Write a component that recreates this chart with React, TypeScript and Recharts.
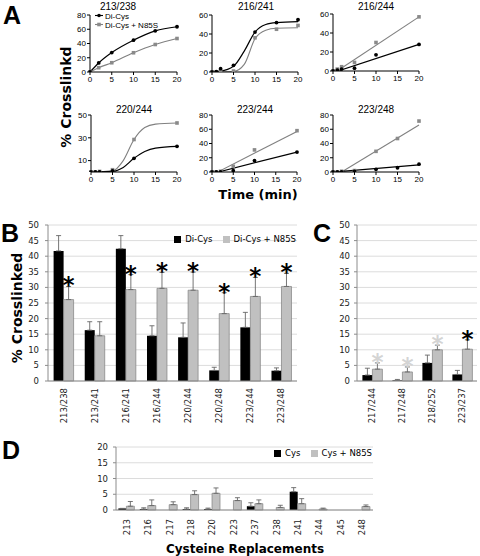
import React from 'react';
import {
  LineChart, Line, XAxis, YAxis, BarChart, Bar, ErrorBar, CartesianGrid, Legend, LabelList,
} from 'recharts';

// ---- panel A: time courses (min vs % crosslinked) ----
const T_213_238 = [0, 2, 5, 10, 15, 20];
const DICYS_213_238 = [0, 12.7, 27.3, 44.7, 57.8, 63.5];
const N85S_213_238 = [0, 6, 13, 27, 38.6, 47];

const T_216_241 = [0, 1, 2, 5, 10, 15, 20];
const DICYS_216_241 = [0, 0.5, 3.5, 7, 42, 52, 55];
const N85S_216_241 = [0, 0, 1, 1, 36, 45, 49];
const FIT_T_216_241 = [0, 2, 5, 7.5, 10, 12.5, 15, 20];
const FIT_DICYS_216_241 = [0.5, 1, 6, 22, 42, 50, 52, 53];
const FIT_N85S_216_241 = [0, 0, 0.5, 8, 35, 44, 46, 46.5];

const T_216_244 = [0, 1, 2, 5, 10, 20];
const DICYS_216_244 = [0, 1, 2, 3, 17, 28];
const N85S_216_244 = [0, 2, 4.5, 9, 30, 57];
const FIT_T_216_244 = [1.5, 20];
const FIT_DICYS_216_244 = [0.5, 28];
const FIT_N85S_216_244 = [1.5, 57];

const T_220_244 = [0, 1, 2, 5, 10, 20];
const DICYS_220_244 = [0, 0, 0, 1, 12, 22.5];
const N85S_220_244 = [0, 0, 0.5, 2, 28.5, 43];
const FIT_T_220_244 = [0, 5, 7.5, 10, 12.5, 15, 20];
const FIT_DICYS_220_244 = [0, 0.5, 4, 12, 18, 21, 22.5];
const FIT_N85S_220_244 = [0, 1, 10, 28.5, 39, 42, 43];

const T_223_244 = [0, 1, 2, 5, 10, 20];
const DICYS_223_244 = [0, 0, 0, 2, 16, 28];
const N85S_223_244 = [0, 0, 1, 8, 31, 58];
const FIT_T_223_244 = [1.5, 20];
const FIT_DICYS_223_244 = [0, 28];
const FIT_N85S_223_244 = [0.5, 57];

const T_223_248 = [0, 1, 2, 5, 10, 15, 20];
const DICYS_223_248 = [0, 0, 0, 1, 3.8, 6, 11];
const N85S_223_248 = [0, 0, 1, 2, 29, 47, 71.5];
const FIT_T_223_248 = [0, 2, 20];
const FIT_DICYS_223_248 = [0, 1, 10];
const FIT_N85S_223_248 = [null, 0, 66];

const TIME_TICKS = [0, 5, 10, 15, 20];

// ---- panel B ----
const B_PAIRS = ['213/238', '213/241', '216/241', '216/244', '220/244', '220/248', '223/244', '223/248'];
const B_DICYS = [41.7, 16.3, 42.4, 14.5, 14.0, 3.4, 17.2, 3.3];
const B_DICYS_ERR = [4.9, 2.7, 4.2, 3.2, 4.6, 1.0, 4.8, 0.9];
const B_N85S = [26.1, 14.5, 29.3, 29.7, 29.1, 21.6, 27.1, 30.3];
const B_N85S_ERR = [4.2, 4.5, 4.8, 5.1, 5.8, 6.7, 6.1, 4.2];
const B_STARS = ['#000', null, '#000', '#000', '#000', '#000', '#000', '#000'];

// ---- panel C ----
const C_PAIRS = ['217/244', '217/248', '218/252', '223/237'];
const C_DICYS = [1.9, 0.2, 5.8, 2.1];
const C_DICYS_ERR = [2.2, 0.3, 2.5, 1.3];
const C_N85S = [3.8, 2.9, 10.0, 10.2];
const C_N85S_ERR = [2.0, 1.6, 1.5, 3.0];
const C_STARS = ['#d4d4d4', '#d4d4d4', '#d4d4d4', '#000'];

// ---- panel D ----
const D_SITES = ['213', '216', '217', '218', '220', '223', '237', '238', '241', '244', '245', '248'];
const D_CYS = [0.5, 0.3, 0, 0.3, 0.3, 0, 1.2, 0, 5.8, 0, 0, 0];
const D_CYS_ERR = [0, 0.4, 0, 0.4, 0.3, 0, 1.1, 0, 1.3, 0, 0, 0];
const D_N85S = [1.2, 1.4, 1.7, 4.9, 5.3, 3.0, 2.0, 0.8, 2.0, 0.3, 0, 1.1];
const D_N85S_ERR = [1.5, 1.8, 0.9, 1.2, 1.7, 0.9, 1.2, 0.7, 1.6, 0.3, 0, 0.5];

const A_FONT = 'Liberation Sans, Arial, sans-serif';
const BAR_FONT = 'DejaVu Sans, Verdana, sans-serif';

const pts = (ts: number[], vs: (number | null)[]) => ts.map((t, i) => ({ t, v: vs[i] }));

const PANELS = [
  { title: '213/238', yMax: 80, yTicks: [0, 20, 40, 60, 80], t: T_213_238, a: DICYS_213_238, b: N85S_213_238,
    fitT: T_213_238, fitA: DICYS_213_238, fitB: N85S_213_238, curve: 'monotone', l: 90, r: 177, top: 15, bot: 72 },
  { title: '216/241', yMax: 60, yTicks: [0, 20, 40, 60], t: T_216_241, a: DICYS_216_241, b: N85S_216_241,
    fitT: FIT_T_216_241, fitA: FIT_DICYS_216_241, fitB: FIT_N85S_216_241, curve: 'monotone', l: 212, r: 298, top: 15, bot: 72 },
  { title: '216/244', yMax: 60, yTicks: [0, 20, 40, 60], t: T_216_244, a: DICYS_216_244, b: N85S_216_244,
    fitT: FIT_T_216_244, fitA: FIT_DICYS_216_244, fitB: FIT_N85S_216_244, curve: 'linear', l: 333, r: 419, top: 14, bot: 71 },
  { title: '220/244', yMax: 50, yTicks: [0, 10, 20, 30, 40, 50], t: T_220_244, a: DICYS_220_244, b: N85S_220_244,
    fitT: FIT_T_220_244, fitA: FIT_DICYS_220_244, fitB: FIT_N85S_220_244, curve: 'monotone', l: 91, r: 177, top: 115, bot: 172 },
  { title: '223/244', yMax: 80, yTicks: [0, 20, 40, 60, 80], t: T_223_244, a: DICYS_223_244, b: N85S_223_244,
    fitT: FIT_T_223_244, fitA: FIT_DICYS_223_244, fitB: FIT_N85S_223_244, curve: 'linear', l: 212, r: 297, top: 115, bot: 172 },
  { title: '223/248', yMax: 80, yTicks: [0, 20, 40, 60, 80], t: T_223_248, a: DICYS_223_248, b: N85S_223_248,
    fitT: FIT_T_223_248, fitA: FIT_DICYS_223_248, fitB: FIT_N85S_223_248, curve: 'linear', l: 333, r: 419, top: 115, bot: 172 },
];

const blackDot = (p: any) =>
  p.cx == null || p.cy == null ? <g key={`b${p.index}`} /> : <circle key={`b${p.index}`} cx={p.cx} cy={p.cy} r={1.9} fill="#000" />;
const greyDot = (p: any) =>
  p.cx == null || p.cy == null ? <g key={`g${p.index}`} /> : (
    <rect key={`g${p.index}`} x={p.cx - 1.8} y={p.cy - 1.8} width={3.6} height={3.6} fill="#8a8a8a" />
  );

function TimePanel({ p }: { p: (typeof PANELS)[number] }) {
  const yW = 25;
  const w = p.r - p.l + yW + 6;
  const h = p.bot - p.top + 5 + 18;
  const axis = { stroke: '#000' };
  const tick = { fontSize: 8, fill: '#000', fontFamily: A_FONT };
  return (
    <div style={{ position: 'absolute', left: p.l - yW, top: p.top - 5 }}>
      <LineChart width={w} height={h} margin={{ top: 5, right: 6, left: 0, bottom: 0 }}>
        <XAxis type="number" dataKey="t" domain={[0, 20]} ticks={TIME_TICKS} height={18}
          tick={tick} tickSize={3} tickMargin={1} axisLine={axis} tickLine={axis} />
        <YAxis type="number" domain={[0, p.yMax]} ticks={p.yTicks} width={yW} allowDataOverflow
          tick={tick} tickSize={3} tickMargin={1} axisLine={axis} tickLine={axis} />
        <Line data={pts(p.fitT, p.fitB)} dataKey="v" type={p.curve as any} stroke="#808080" strokeWidth={1.1}
          dot={false} isAnimationActive={false} />
        <Line data={pts(p.fitT, p.fitA)} dataKey="v" type={p.curve as any} stroke="#000" strokeWidth={1.2}
          dot={false} isAnimationActive={false} />
        <Line data={pts(p.t, p.b)} dataKey="v" stroke="none" strokeWidth={0} dot={greyDot} isAnimationActive={false} />
        <Line data={pts(p.t, p.a)} dataKey="v" stroke="none" strokeWidth={0} dot={blackDot} isAnimationActive={false} />
      </LineChart>
    </div>
  );
}

const VertTick = (props: any) => {
  const { x, y, payload, off, fs } = props;
  const yy = y + off;
  return (
    <text x={x} y={yy} transform={`rotate(-90 ${x} ${yy})`} textAnchor="end" dominantBaseline="central"
      fontSize={fs} fontFamily={BAR_FONT} fill="#222">
      {payload.value}
    </text>
  );
};

const starLabel = (errs: number[], colors: (string | null)[]) => (props: any) => {
  const i = props.index;
  const color = colors[i];
  if (!color) return null;
  const vb = props.viewBox ?? props;
  const v = Number(props.value);
  const ppu = v ? vb.height / v : 0;
  const top = vb.y - errs[i] * ppu;
  return (
    <text key={`s${i}`} x={vb.x + vb.width / 2} y={top + 7} textAnchor="middle" fontSize={23}
      fontWeight="bold" fontFamily={BAR_FONT} fill={color}>*</text>
  );
};

const rows = (cats: string[], a: number[], ae: number[], b: number[], be: number[]) =>
  cats.map((cat, i) => ({ cat, a: a[i], aErr: [0, ae[i]], b: b[i], bErr: [0, be[i]] }));

const legendFmt = (v: string) => <span style={{ color: '#000' }}>{v}</span>;

function GroupChart(props: {
  data: any[]; left: number; top: number; width: number; height: number; yW: number; yMax: number;
  yTicks: number[]; xH: number; off: number; gap: string; names?: string[]; legendTop?: number;
  stars?: { errs: number[]; colors: (string | null)[] }; tickMargin: number;
}) {
  const { data, left, top, width, height, yW, yMax, yTicks, xH, off, gap, names, legendTop, stars, tickMargin } = props;
  const ax = { stroke: '#8c8c8c' };
  return (
    <div style={{ position: 'absolute', left, top }}>
      <BarChart width={width} height={height} data={data} margin={{ top: 5, right: 2, left: 0, bottom: 0 }}
        barCategoryGap={gap} barGap={0}>
        <CartesianGrid vertical={false} stroke="#dcdcdc" />
        <XAxis dataKey="cat" interval={0} height={xH} tickSize={0} tickMargin={0} tickLine={false} axisLine={ax}
          tick={<VertTick off={off} fs={8.5} />} />
        <YAxis domain={[0, yMax]} ticks={yTicks} width={yW} interval={0} tickSize={3} tickMargin={tickMargin}
          axisLine={ax} tickLine={ax} tick={{ fontSize: 8.5, fill: '#222', fontFamily: BAR_FONT }} />
        <YAxis yAxisId="edge" orientation="right" width={0} tick={false} tickLine={false} axisLine={{ stroke: '#bdbdbd' }} />
        {names && (
          <Legend verticalAlign="middle" align="center" layout="horizontal" iconType="square" iconSize={7}
            wrapperStyle={{ top: legendTop, right: -7, left: 'auto', width: 'auto', fontSize: 8.5, fontFamily: BAR_FONT, lineHeight: '10px' }}
            formatter={legendFmt} />
        )}
        <Bar dataKey="a" name={names ? names[0] : 'a'} fill="#000" isAnimationActive={false}>
          <ErrorBar dataKey="aErr" width={2.5} stroke="#666" strokeWidth={0.9} />
        </Bar>
        <Bar dataKey="b" name={names ? names[1] : 'b'} fill="#c0c0c0" stroke="#808080" strokeWidth={0.7}
          isAnimationActive={false}>
          <ErrorBar dataKey="bErr" width={2.5} stroke="#666" strokeWidth={0.9} />
          {stars && <LabelList dataKey="b" content={starLabel(stars.errs, stars.colors)} />}
        </Bar>
      </BarChart>
    </div>
  );
}

const TICKS_50 = [0, 5, 10, 15, 20, 25, 30, 35, 40, 45, 50];
const TICKS_20 = [0, 5, 10, 15, 20];

export default function App() {
  const bRows = rows(B_PAIRS, B_DICYS, B_DICYS_ERR, B_N85S, B_N85S_ERR);
  const cRows = rows(C_PAIRS, C_DICYS, C_DICYS_ERR, C_N85S, C_N85S_ERR);
  const dRows = rows(D_SITES, D_CYS, D_CYS_ERR, D_N85S, D_N85S_ERR);
  const titleX = [118, 256, 376, 134, 255, 376];
  return (
    <div style={{ position: 'absolute', left: 0, top: 0, width: 480, height: 556, background: '#fff', overflow: 'hidden' }}>
      {PANELS.map((p) => <TimePanel key={p.title} p={p} />)}

      <GroupChart data={bRows} left={8} top={220} width={291} height={209} yW={40} yMax={50} yTicks={TICKS_50}
        xH={48} off={7} gap="18%" names={['Di-Cys', 'Di-Cys + N85S']} legendTop={14}
        stars={{ errs: B_N85S_ERR, colors: B_STARS }} tickMargin={6} />
      <GroupChart data={cRows} left={327} top={220} width={152} height={209} yW={30} yMax={50} yTicks={TICKS_50}
        xH={48} off={7} gap="18%" stars={{ errs: C_N85S_ERR, colors: C_STARS }} tickMargin={4} />
      <GroupChart data={dRows} left={86} top={442} width={289} height={98} yW={30} yMax={20} yTicks={TICKS_20}
        xH={30} off={9} gap="11%" names={['Cys', 'Cys + N85S']} legendTop={6} tickMargin={5} />

      <svg width={480} height={556} style={{ position: 'absolute', left: 0, top: 0, pointerEvents: 'none' }}>
        <g fontFamily={A_FONT} fontWeight="bold" fontSize={25} fill="#000">
          <text x={3} y={24}>A</text>
          <text x={1} y={242}>B</text>
          <text x={313} y={242}>C</text>
          <text x={2} y={459}>D</text>
        </g>
        <g fontFamily={A_FONT} fontSize={10} fill="#000" textAnchor="middle">
          {PANELS.map((p, i) => (
            <text key={p.title} x={titleX[i]} y={i < 3 ? 10 : 113}>{p.title}</text>
          ))}
        </g>
        <g fontFamily={A_FONT} fontSize={8} fill="#000">
          <line x1={95} y1={15.5} x2={103} y2={15.5} stroke="#000" strokeWidth={1.1} />
          <circle cx={99} cy={15.5} r={1.8} fill="#000" />
          <text x={105} y={18.5}>Di-Cys</text>
          <line x1={95} y1={24.5} x2={103} y2={24.5} stroke="#808080" strokeWidth={1.1} />
          <rect x={97.2} y={22.7} width={3.6} height={3.6} fill="#8a8a8a" />
          <text x={105} y={27.5}>Di-Cys + N85S</text>
        </g>
        <g fontFamily={BAR_FONT} fontWeight="bold" fill="#000" textAnchor="middle">
          <text transform="translate(71 97) rotate(-90)" fontSize={14}>% Crosslinkd</text>
          <text x={258} y={199} fontSize={13}>Time (min)</text>
          <text transform="translate(22 308) rotate(-90)" fontSize={14}>% Crosslinked</text>
          <text x={245} y={553} fontSize={12}>Cysteine Replacements</text>
        </g>
      </svg>
    </div>
  );
}
